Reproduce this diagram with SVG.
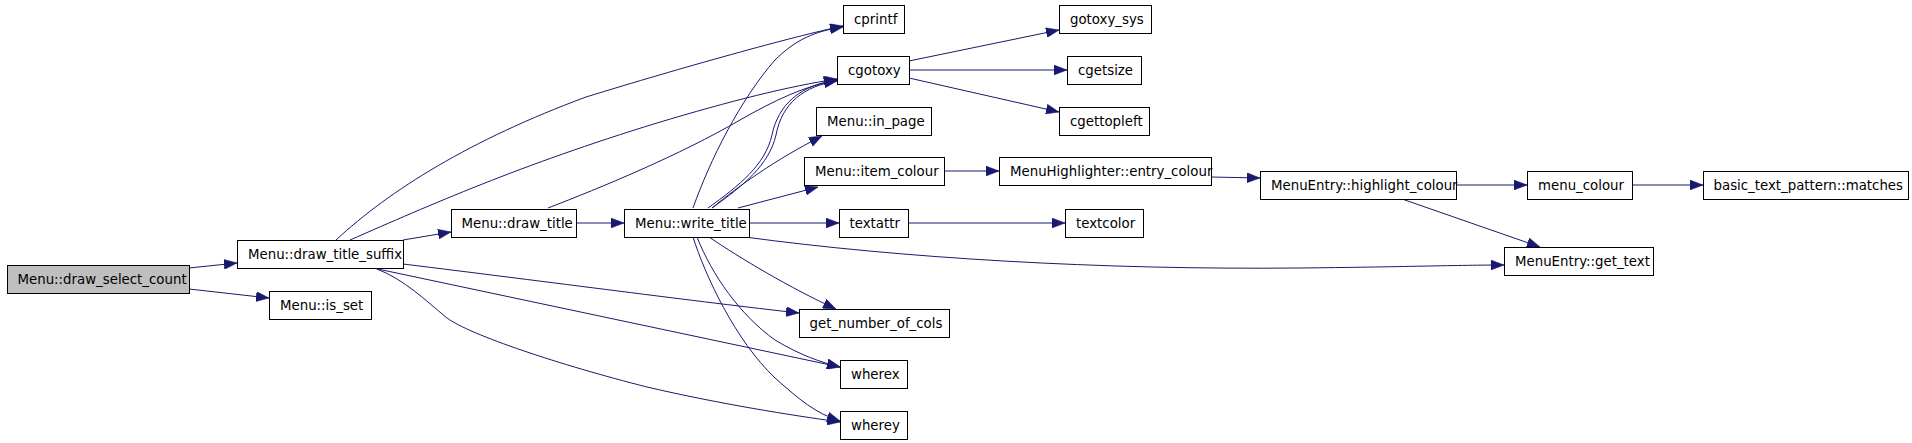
<svg xmlns="http://www.w3.org/2000/svg" width="1912" height="443" viewBox="0 0 1912 443">
<style>
.n rect{fill:#ffffff;stroke:#000000;stroke-width:1}
.n text{font-family:"DejaVu Sans","Liberation Sans",sans-serif;font-size:13.33px;fill:#000000}
#edges path{fill:none;stroke:#191970;stroke-width:1;marker-end:url(#arr)}
</style>
<defs>
<marker id="arr" markerUnits="userSpaceOnUse" markerWidth="13" markerHeight="10" refX="13" refY="5" orient="auto" viewBox="0 0 13 10">
<path d="M0,0 L13,5 L0,10 z" fill="#191970" stroke="#191970" stroke-width="0.5"/>
</marker>
</defs>
<rect width="1912" height="443" fill="#ffffff"/>
<g id="edges">
<path d="M189,268 L237,263"/>
<path d="M189,289 L269,298"/>
<path d="M336,240 C390,190 470,140 586,97 C680,68 795,36 843,26"/>
<path d="M350,240 C430,205 520,165 657,123 C730,101 790,86 837,79"/>
<path d="M403,240 L451,232"/>
<path d="M403,264 C550,282 700,302 799,313"/>
<path d="M373,268 L840,367"/>
<path d="M377,269 C405,280 425,300 447,318 C470,335 560,365 647,387 C720,404 790,415 840,422"/>
<path d="M548,208 C600,188 680,155 740,120 C775,100 805,86 837,80"/>
<path d="M576,223 L624,223"/>
<path d="M693,208 C710,160 740,100 775,60 C795,40 815,31 843,27"/>
<path d="M708,208 C740,185 765,165 772,135 C778,105 800,85 837,80"/>
<path d="M712,208 C744,185 769,165 776,135 C782,103 804,86 837,81"/>
<path d="M712,208 C740,185 775,160 822,136"/>
<path d="M738,208 L818,187"/>
<path d="M749,223 L839,223"/>
<path d="M745,237 C900,258 1100,270 1300,268 C1400,267 1460,265 1504,265"/>
<path d="M709,237 C740,258 790,288 836,309"/>
<path d="M697,237 C712,275 740,315 775,340 C800,355 820,362 840,367"/>
<path d="M693,237 C705,275 735,340 775,378 C800,400 815,413 840,421"/>
<path d="M909,61 L1059,30"/>
<path d="M909,70 L1067,70"/>
<path d="M909,78 L1059,112"/>
<path d="M944,171 L999,171"/>
<path d="M908,223 L1065,223"/>
<path d="M1211,177 L1260,178"/>
<path d="M1456,185 L1527,185"/>
<path d="M1402,199 L1540,247"/>
<path d="M1632,185 L1703,185"/>
</g>
<g id="node_draw_select_count" class="n"><rect x="7.5" y="265.5" width="182" height="28" style="fill:#bfbfbf"/><text x="17.5" y="283.5">Menu::draw_select_count</text></g>
<g id="node_draw_title_suffix" class="n"><rect x="237.5" y="240.5" width="166" height="28"/><text x="248" y="258.5">Menu::draw_title_suffix</text></g>
<g id="node_is_set" class="n"><rect x="269.5" y="291.5" width="102" height="28"/><text x="280" y="309.5">Menu::is_set</text></g>
<g id="node_draw_title" class="n"><rect x="451.5" y="209.5" width="125" height="28"/><text x="461.5" y="227.5">Menu::draw_title</text></g>
<g id="node_write_title" class="n"><rect x="624.5" y="209.5" width="125" height="28"/><text x="635" y="227.5">Menu::write_title</text></g>
<g id="node_cprintf" class="n"><rect x="843.5" y="5.5" width="61" height="28"/><text x="854" y="23.5">cprintf</text></g>
<g id="node_cgotoxy" class="n"><rect x="837.5" y="56.5" width="72" height="28"/><text x="848" y="74.5">cgotoxy</text></g>
<g id="node_in_page" class="n"><rect x="816.5" y="107.5" width="115" height="28"/><text x="827" y="125.5">Menu::in_page</text></g>
<g id="node_item_colour" class="n"><rect x="804.5" y="157.5" width="140" height="28"/><text x="815" y="175.5">Menu::item_colour</text></g>
<g id="node_textattr" class="n"><rect x="839.5" y="209.5" width="69" height="28"/><text x="849.5" y="227.5">textattr</text></g>
<g id="node_get_number_of_cols" class="n"><rect x="799.5" y="309.5" width="150" height="28"/><text x="809.5" y="327.5">get_number_of_cols</text></g>
<g id="node_wherex" class="n"><rect x="840.5" y="360.5" width="67" height="28"/><text x="851" y="378.5">wherex</text></g>
<g id="node_wherey" class="n"><rect x="840.5" y="411.5" width="67" height="28"/><text x="851" y="429.5">wherey</text></g>
<g id="node_gotoxy_sys" class="n"><rect x="1059.5" y="5.5" width="92" height="28"/><text x="1070" y="23.5">gotoxy_sys</text></g>
<g id="node_cgetsize" class="n"><rect x="1067.5" y="56.5" width="74" height="28"/><text x="1078" y="74.5">cgetsize</text></g>
<g id="node_cgettopleft" class="n"><rect x="1059.5" y="107.5" width="90" height="28"/><text x="1070" y="125.5">cgettopleft</text></g>
<g id="node_entry_colour" class="n"><rect x="999.5" y="157.5" width="212" height="28"/><text x="1010" y="175.5">MenuHighlighter::entry_colour</text></g>
<g id="node_textcolor" class="n"><rect x="1065.5" y="209.5" width="78" height="28"/><text x="1076" y="227.5">textcolor</text></g>
<g id="node_highlight_colour" class="n"><rect x="1260.5" y="171.5" width="196" height="28"/><text x="1271" y="189.5">MenuEntry::highlight_colour</text></g>
<g id="node_menu_colour" class="n"><rect x="1527.5" y="171.5" width="105" height="28"/><text x="1538" y="189.5">menu_colour</text></g>
<g id="node_matches" class="n"><rect x="1703.5" y="171.5" width="205" height="28"/><text x="1713.5" y="189.5">basic_text_pattern::matches</text></g>
<g id="node_get_text" class="n"><rect x="1504.5" y="247.5" width="149" height="28"/><text x="1515" y="265.5">MenuEntry::get_text</text></g>
</svg>
